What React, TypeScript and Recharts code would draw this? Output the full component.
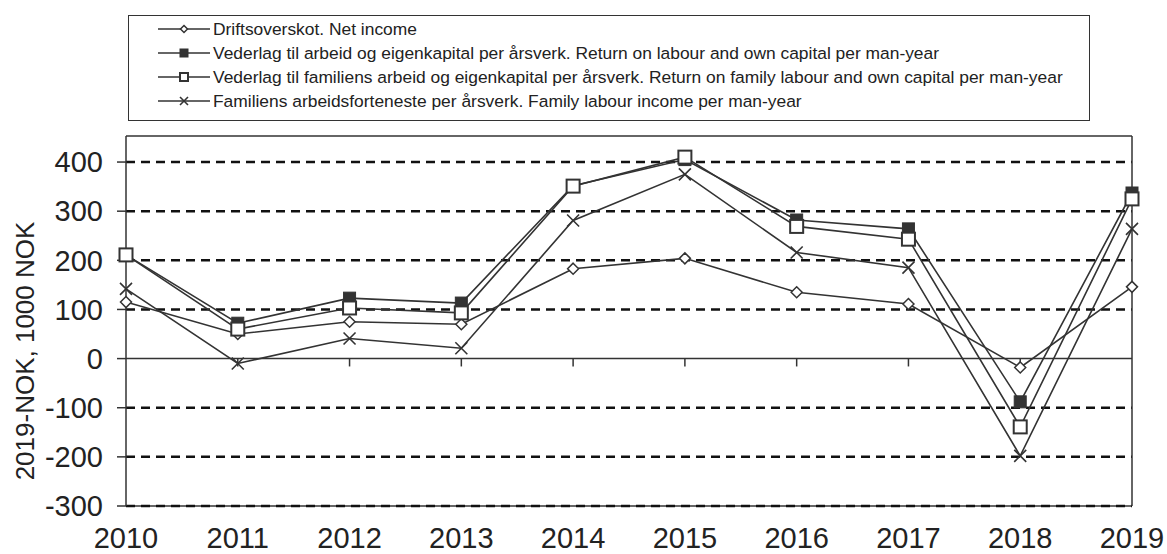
import React from 'react';
import { LineChart, Line, XAxis, YAxis, ReferenceLine, Label } from 'recharts';

document.body.style.margin = '0';

const years = [2010, 2011, 2012, 2013, 2014, 2015, 2016, 2017, 2018, 2019];
const netIncome = [115, 50, 75, 70, 183, 204, 135, 111, -18, 146];
const returnLabourCapital = [211, 72, 123, 113, 352, 405, 282, 264, -88, 337];
const returnFamilyLabourCapital = [211, 60, 103, 93, 351, 410, 269, 243, -139, 325];
const familyLabourIncome = [142, -10, 41, 21, 281, 375, 216, 185, -198, 264];

const yTicks = [-300, -200, -100, 0, 100, 200, 300, 400];
const gridValues = yTicks.filter((v) => v !== 0);

const SERIES_NAMES = [
  'Driftsoverskot. Net income',
  'Vederlag til arbeid og eigenkapital per årsverk. Return on labour and own capital per man-year',
  'Vederlag til familiens arbeid og eigenkapital per årsverk. Return on family labour and own capital per man-year',
  'Familiens arbeidsforteneste per årsverk. Family labour income per man-year',
];

const data = years.map((year, i) => ({
  year,
  net: netIncome[i],
  labour: returnLabourCapital[i],
  family: returnFamilyLabourCapital[i],
  familyIncome: familyLabourIncome[i],
}));

const INK = '#333';
const FONT = '"Liberation Sans", Arial, sans-serif';

type MarkerKind = 'diamond' | 'filled' | 'open' | 'cross';

const Marker = ({ kind, cx, cy, s }: { kind: MarkerKind; cx: number; cy: number; s: number }) => {
  if (kind === 'diamond') {
    return (
      <path
        d={`M${cx},${cy - s} L${cx + s},${cy} L${cx},${cy + s} L${cx - s},${cy} Z`}
        fill="#fff"
        stroke={INK}
        strokeWidth={1.5}
      />
    );
  }
  if (kind === 'filled') {
    return <rect x={cx - s} y={cy - s} width={2 * s} height={2 * s} fill={INK} stroke={INK} strokeWidth={1} />;
  }
  if (kind === 'open') {
    return <rect x={cx - s} y={cy - s} width={2 * s} height={2 * s} fill="#fff" stroke={INK} strokeWidth={2} />;
  }
  return (
    <path
      d={`M${cx - s},${cy - s} L${cx + s},${cy + s} M${cx - s},${cy + s} L${cx + s},${cy - s}`}
      stroke={INK}
      strokeWidth={1.6}
      fill="none"
    />
  );
};

const makeDot = (kind: MarkerKind, s: number) => (props: any) => {
  const { cx, cy, index } = props;
  if (cx == null || cy == null) return <g key={index} />;
  return (
    <g key={`${kind}-${index}`}>
      <Marker kind={kind} cx={cx} cy={cy} s={s} />
    </g>
  );
};

const LEGEND_KINDS: MarkerKind[] = ['diamond', 'filled', 'open', 'cross'];
const LEGEND_SIZES = [3.5, 4, 4, 4];

const ChartLegend = () => (
  <div
    style={{
      position: 'absolute',
      left: 128,
      top: 15,
      width: 962,
      height: 106,
      border: `1.5px solid ${INK}`,
      boxSizing: 'border-box',
      background: '#fff',
      fontFamily: FONT,
      fontSize: 17.4,
      color: '#222',
    }}
  >
    {SERIES_NAMES.map((name, i) => (
      <div
        key={name}
        style={{ position: 'absolute', left: 29, top: 2 + i * 24, height: 22, display: 'flex', alignItems: 'center', whiteSpace: 'nowrap' }}
      >
        <svg width={52} height={14} style={{ marginRight: 3 }}>
          <line x1={0} y1={7} x2={52} y2={7} stroke={INK} strokeWidth={1.6} />
          <Marker kind={LEGEND_KINDS[i]} cx={26} cy={7} s={LEGEND_SIZES[i]} />
        </svg>
        <span>{name}</span>
      </div>
    ))}
  </div>
);

const AxisTitle = () => (
  <text
    transform="translate(25,351) rotate(-90)"
    textAnchor="middle"
    dominantBaseline="central"
    fontSize={26}
    fontFamily={FONT}
    fill="#222"
  >
    2019-NOK, 1000 NOK
  </text>
);

export default function App() {
  return (
    <div style={{ position: 'relative', width: 1167, height: 554, background: '#fff' }}>
      <LineChart
        width={1167}
        height={554}
        data={data}
        margin={{ top: 136, right: 35, bottom: 0, left: 0 }}
        style={{ fontFamily: FONT }}
      >
        <XAxis
          type="number"
          dataKey="year"
          domain={[2010, 2019]}
          ticks={years}
          axisLine={false}
          tickLine={false}
          tickSize={0}
          tickMargin={21}
          height={48}
          tick={{ fontSize: 29, fill: '#222' }}
        />
        <YAxis
          type="number"
          domain={[-300, 453]}
          ticks={yTicks}
          allowDataOverflow
          width={126}
          tickSize={9}
          tickMargin={14}
          axisLine={{ stroke: INK, strokeWidth: 1.5 }}
          tickLine={{ stroke: INK, strokeWidth: 1.5 }}
          tick={{ fontSize: 29, fill: '#222' }}
        >
          <Label content={() => <AxisTitle />} />
        </YAxis>
        <ReferenceLine y={-300} stroke={INK} strokeWidth={1.5} />
        {gridValues.map((v) => (
          <ReferenceLine key={v} y={v} stroke="#111" strokeWidth={2.5} strokeDasharray="9 6" />
        ))}
        <ReferenceLine y={0} stroke={INK} strokeWidth={1.5} />
        <ReferenceLine y={453} stroke={INK} strokeWidth={1.5} />
        <ReferenceLine x={2019} stroke={INK} strokeWidth={1.5} />
        {years.slice(1, -1).map((yr) => (
          <ReferenceLine
            key={`tick-${yr}`}
            segment={[
              { x: yr, y: 0 },
              { x: yr, y: -16 },
            ]}
            stroke={INK}
            strokeWidth={1.5}
          />
        ))}
        <Line
          dataKey="net"
          name={SERIES_NAMES[0]}
          stroke={INK}
          strokeWidth={1.6}
          dot={makeDot('diamond', 5.5)}
          isAnimationActive={false}
        />
        <Line
          dataKey="labour"
          name={SERIES_NAMES[1]}
          stroke={INK}
          strokeWidth={1.6}
          dot={makeDot('filled', 6)}
          isAnimationActive={false}
        />
        <Line
          dataKey="family"
          name={SERIES_NAMES[2]}
          stroke={INK}
          strokeWidth={1.6}
          dot={makeDot('open', 6.5)}
          isAnimationActive={false}
        />
        <Line
          dataKey="familyIncome"
          name={SERIES_NAMES[3]}
          stroke={INK}
          strokeWidth={1.6}
          dot={makeDot('cross', 6)}
          isAnimationActive={false}
        />
      </LineChart>
      <ChartLegend />
    </div>
  );
}
